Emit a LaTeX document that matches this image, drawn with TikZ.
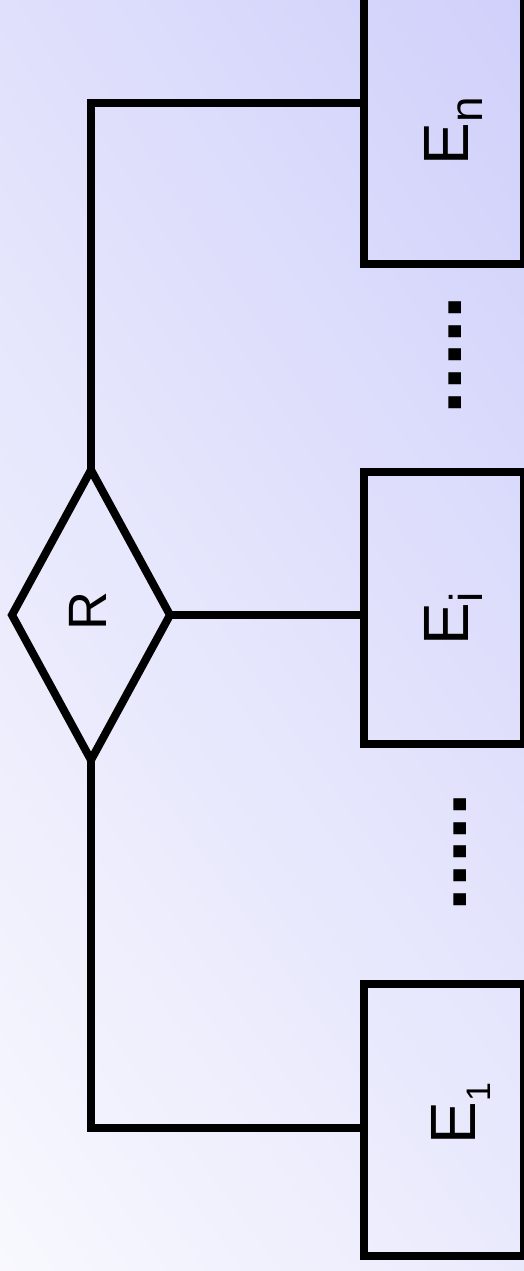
\documentclass[tikz,border=0pt]{standalone}
\usepackage{fontspec}
\setmainfont{Liberation Sans}
\usetikzlibrary{shapes.geometric,calc,shadings}
\definecolor{bgUL}{HTML}{E0E0FC}
\definecolor{bgUR}{HTML}{D0D0FB}
\definecolor{bgLL}{HTML}{F8F8FE}
\definecolor{bgLR}{HTML}{EAEAFD}
\tikzset{
  entity/.style={draw=black, line width=8pt, rectangle, minimum width=160pt, minimum height=272pt, inner sep=0pt, outer sep=0pt},
  rel/.style={draw=black, line width=8pt, diamond, minimum width=158pt, minimum height=290pt, inner sep=0pt, outer sep=0pt},
  conn/.style={draw=black, line width=8pt},
  lbl/.style={rotate=90, inner sep=0pt, outer sep=0pt, anchor=base west, text=black}
}
\begin{document}
\begin{tikzpicture}[x=1pt,y=-1pt]
\useasboundingbox (0,0) rectangle (524,1271);
\clip (0,0) rectangle (524,1271);
\shade[upper left=bgUL, upper right=bgUR, lower left=bgLL, lower right=bgLR] (0,0) rectangle (524,1271);

\node[entity] (En) at (444,128) {};
\node[entity] (Ei) at (444,608) {};
\node[entity] (E1) at (444,1120) {};
\node[rel] (R) at (91,615) {};

\draw[conn] (R.north) |- ([yshift=24.5pt]En.west);
\draw[conn] (R.east) -- (R.east -| Ei.west);
\draw[conn] (R.south) |- ([yshift=-8pt]E1.west);

\node[lbl, font=\fontsize{54}{54}\selectfont] (RL) at (106,630) {R};
\node[lbl, font=\fontsize{64}{64}\selectfont] (EnL) at (468,165) {E\raisebox{-14pt}{\fontsize{46}{46}\selectfont n}};
\node[lbl, font=\fontsize{64}{64}\selectfont] (EiL) at (468,645) {E\raisebox{-14pt}{\fontsize{46}{46}\selectfont i}};
\node[lbl, font=\fontsize{64}{64}\selectfont] (E1L) at (475,1144) {E\raisebox{-15pt}{\fontsize{34}{34}\selectfont 1}};
\node[lbl, font=\bfseries\fontsize{85}{85}\selectfont] (D1) at (461,414) {.....};
\node[lbl, font=\bfseries\fontsize{85}{85}\selectfont] (D2) at (466,911) {.....};
\end{tikzpicture}
\end{document}
